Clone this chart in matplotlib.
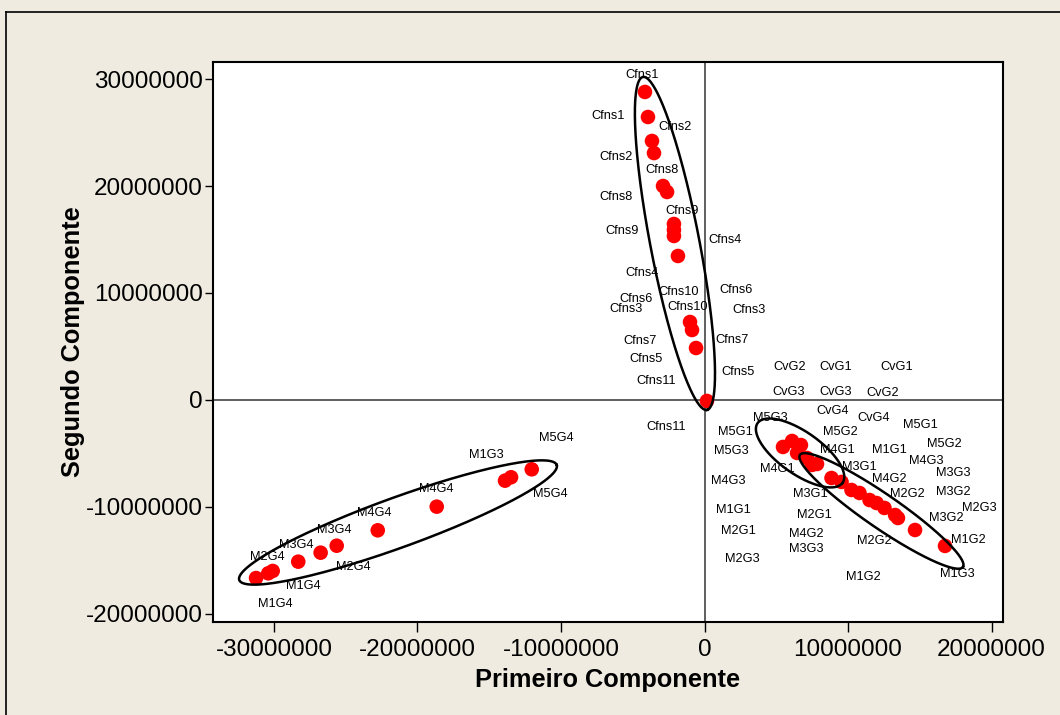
import numpy as np
import matplotlib
matplotlib.use("Agg")
import matplotlib.pyplot as plt
from matplotlib.lines import Line2D
from matplotlib import font_manager

# ---- scores of the samples on the first two components ----
pt_x = [-4.15, -3.94, -3.66, -3.52, -2.89, -2.61, -2.13, -2.13, -2.13, -1.85,
        -1.01, -0.87, -0.59, 0.17,
        -31.25, -30.40, -30.09, -28.31, -26.75, -25.63, -22.77, -18.66,
        -13.90, -13.48, -12.04,
        5.47, 6.10, 6.72, 6.45, 7.14, 7.84, 7.49, 8.85, 9.55, 10.24, 10.80,
        11.50, 11.99, 12.54, 13.28, 13.48, 14.67, 16.76]
pt_y = [28.79, 26.45, 24.21, 23.08, 20.00, 19.44, 16.45, 15.89, 15.33, 13.46,
        7.29, 6.54, 4.86, -0.09,
        -16.64, -16.20, -15.98, -15.11, -14.27, -13.62, -12.18, -9.97,
        -7.54, -7.22, -6.48,
        -4.39, -3.83, -4.21, -4.95, -5.42, -5.98, -6.07, -7.29, -7.66, -8.41,
        -8.69, -9.35, -9.63, -10.09, -10.75, -11.03, -12.15, -13.64]

# ---- sample names and where they are written ----
lab_text = ["Cfns1", "Cfns1", "Cfns2", "Cfns2", "Cfns8", "Cfns8", "Cfns9", "Cfns9",
            "Cfns4", "Cfns4", "Cfns10", "Cfns6", "Cfns6", "Cfns3", "Cfns10", "Cfns3",
            "Cfns7", "Cfns7", "Cfns5", "Cfns5", "Cfns11", "Cfns11",
            "CvG2", "CvG1", "CvG1", "CvG3", "CvG3", "CvG2", "CvG4", "CvG4",
            "M5G3", "M5G1", "M5G2", "M5G1", "M5G2", "M5G3", "M4G1", "M1G1", "M4G3",
            "M4G1", "M3G1", "M3G3", "M4G2", "M4G3", "M3G2", "M3G1", "M2G2", "M1G1",
            "M2G3", "M2G1", "M3G2", "M2G1", "M4G2", "M1G2", "M2G2", "M3G3", "M2G3",
            "M1G3", "M1G2",
            "M5G4", "M1G3", "M5G4", "M4G4", "M4G4", "M3G4", "M3G4", "M2G4", "M2G4",
            "M1G4", "M1G4"]
lab_x = [-4.36, -6.72, -2.02, -6.17, -2.96, -6.17, -1.53, -5.75,
         1.46, -4.36, -1.78, 2.20, -4.77, -5.47, -1.15, 3.10,
         -4.49, 1.95, -4.08, 2.37, -3.38, -2.68,
         5.96, 9.16, 13.41, 5.85, 9.16, 12.40, 8.95, 11.78,
         4.56, 2.13, 9.48, 15.02, 16.72, 1.88, 9.27, 12.89, 15.44,
         5.05, 10.77, 17.32, 12.89, 1.67, 17.32, 7.35, 14.15, 1.99,
         19.16, 7.67, 16.86, 2.37, 7.07, 18.40, 11.85, 7.07, 2.65,
         17.63, 11.08,
         -10.35, -15.23, -10.77, -18.71, -23.00, -25.82, -28.47, -30.45, -24.49,
         -27.98, -29.93]
lab_y = [30.37, 26.54, 25.51, 22.71, 21.50, 18.97, 17.66, 15.79,
         14.95, 11.87, 10.09, 10.28, 9.44, 8.50, 8.69, 8.41,
         5.51, 5.61, 3.83, 2.62, 1.78, -2.52,
         3.08, 3.08, 3.08, 0.79, 0.79, 0.65, -1.07, -1.64,
         -1.64, -2.99, -2.99, -2.34, -4.11, -4.77, -4.67, -4.67, -5.70,
         -6.45, -6.26, -6.78, -7.34, -7.57, -8.60, -8.79, -8.79, -10.28,
         -10.14, -10.75, -11.03, -12.29, -12.48, -13.04, -13.22, -13.97, -14.86,
         -16.31, -16.59,
         -3.55, -5.14, -8.79, -8.32, -10.56, -12.15, -13.55, -14.72, -15.65,
         -17.34, -19.11]

# ---- group outlines: centre, end of semi-major axis, end of semi-minor axis ----
ell_center = [(-2.06, 14.63), (-21.36, -11.45), (6.66, -4.95), (12.33, -10.37)]
ell_major = [(0.17, -0.93), (-10.30, -6.07), (9.62, -7.74), (18.01, -15.61)]
ell_minor = [(-0.38, 15.06), (-20.77, -13.64), (5.81, -6.56), (11.67, -11.68)]

x_ticks = [-30, -20, -10, 0, 10, 20]
y_ticks = [-20, -10, 0, 10, 20, 30]
SCALE = 1e6

available = {f.name for f in font_manager.fontManager.ttflist}
narrow = "Liberation Sans Narrow" in available
family = ["Liberation Sans Narrow"] if narrow else ["Liberation Sans"]
k = 1.0 if narrow else 0.85
plt.rcParams["font.family"] = family + ["DejaVu Sans"]

fig = plt.figure(figsize=(10.6, 7.15), dpi=100, facecolor="#EFEBE1")
ax = fig.add_axes([213 / 1060, 93 / 715, 790 / 1060, 560 / 715])
ax.set_facecolor("white")

ax.axhline(0, color="#444444", lw=1.2, zorder=1)
ax.axvline(0, color="#444444", lw=1.2, zorder=1)

ax.scatter(np.array(pt_x) * SCALE, np.array(pt_y) * SCALE, s=110,
           color="#FF0000", edgecolors="none", zorder=3)

t = np.linspace(0, 2 * np.pi, 400)
for c, a, b in zip(ell_center, ell_major, ell_minor):
    cx, cy = c
    ux, uy = a[0] - cx, a[1] - cy
    vx, vy = b[0] - cx, b[1] - cy
    ex = cx + np.cos(t) * ux + np.sin(t) * vx
    ey = cy + np.cos(t) * uy + np.sin(t) * vy
    ax.plot(ex * SCALE, ey * SCALE, color="black", lw=1.8, zorder=4)

for s, x, y in zip(lab_text, lab_x, lab_y):
    ax.text(x * SCALE, y * SCALE, s, ha="center", va="center",
            fontsize=10.8 * k, color="black", zorder=5)

ax.set_xlim(-34.25 * SCALE, 20.80 * SCALE)
ax.set_ylim(-20.75 * SCALE, 31.59 * SCALE)
ax.set_xticks([v * SCALE for v in x_ticks])
ax.set_yticks([v * SCALE for v in y_ticks])
ax.set_xticklabels([str(int(v * SCALE)) for v in x_ticks])
ax.set_yticklabels([str(int(v * SCALE)) for v in y_ticks])
ax.tick_params(axis="x", direction="out", length=7, width=1, pad=5,
               labelsize=20.5 * k, top=False)
ax.tick_params(axis="y", direction="out", length=6, width=1, pad=1.5,
               labelsize=20.5 * k, right=False)
for sp in ax.spines.values():
    sp.set_linewidth(1.5)
    sp.set_color("black")

ax.set_xlabel("Primeiro Componente", fontsize=21.5 * k, fontweight="bold")
ax.set_ylabel("Segundo Componente", fontsize=21.5 * k, fontweight="bold")
ax.xaxis.label.set_va("center")
ax.yaxis.label.set_va("center")
ax.xaxis.set_label_coords(0.5, -0.1036)
ax.yaxis.set_label_coords(-0.177, 0.5)

# outer frame of the panel
fig.add_artist(Line2D([6 / 1060, 6 / 1060], [0, 1 - 12 / 715],
                      transform=fig.transFigure, color="black", lw=1.2))
fig.add_artist(Line2D([6 / 1060, 1], [1 - 12 / 715, 1 - 12 / 715],
                      transform=fig.transFigure, color="black", lw=1.2))

fig.savefig("out.png", dpi=100, facecolor=fig.get_facecolor())
